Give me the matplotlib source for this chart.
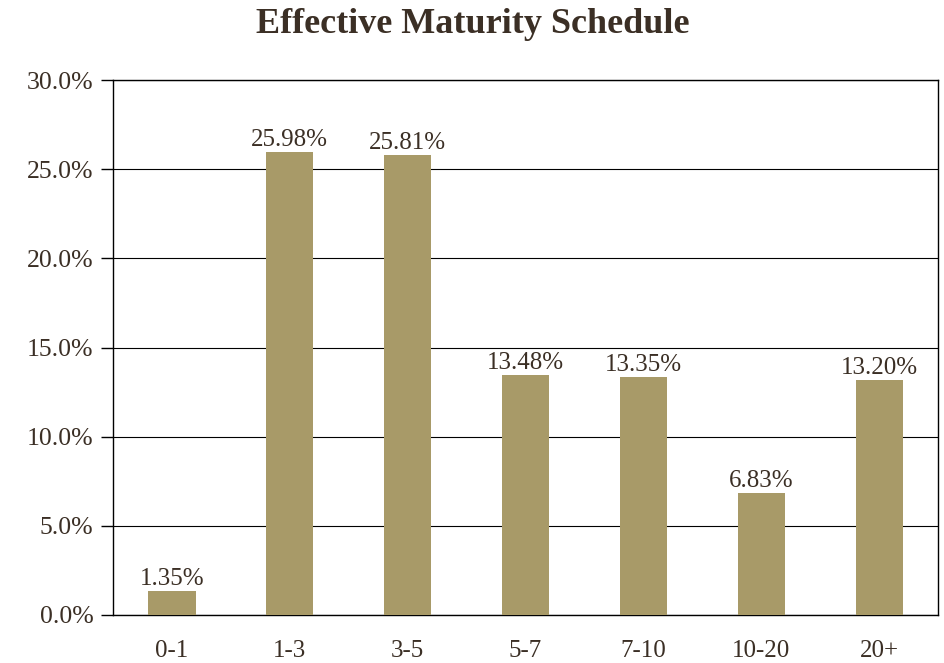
import matplotlib
matplotlib.use('Agg')
import matplotlib.pyplot as plt
from matplotlib.ticker import FuncFormatter

categories = ['0-1', '1-3', '3-5', '5-7', '7-10', '10-20', '20+']
values = [1.35, 25.98, 25.81, 13.48, 13.35, 6.83, 13.20]
y_ticks = [0, 5, 10, 15, 20, 25, 30]

text_color = '#3b2f25'
bar_color = '#a89a68'

plt.rcParams['font.family'] = ['Liberation Serif', 'DejaVu Serif']

fig = plt.figure(figsize=(9.45, 6.63), dpi=100)
ax = fig.add_axes([0.1196, 0.0724, 0.8730, 0.8069])

x = range(len(categories))
bars = ax.bar(x, values, width=0.40, color=bar_color, zorder=3)

for xi, v in zip(x, values):
    ax.text(xi, v + 0.05, f'{v:.2f}%', ha='center', va='bottom',
            fontsize=18, color=text_color, zorder=4)

ax.set_xlim(-0.5, len(categories) - 0.5)
ax.set_ylim(0, 30)
ax.set_yticks(y_ticks)
ax.yaxis.set_major_formatter(FuncFormatter(lambda v, p: f'{v:.1f}%'))
ax.set_xticks(list(x))
ax.set_xticklabels(categories)
ax.grid(axis='y', color='black', linewidth=0.8, zorder=0)

ax.tick_params(axis='y', length=9, width=1, color='black', labelsize=18.5,
               labelcolor=text_color, pad=5)
ax.tick_params(axis='x', length=0, labelsize=18, labelcolor=text_color, pad=18)

for s in ax.spines.values():
    s.set_color('black')
    s.set_linewidth(1.0)

fig.text(0.5, 0.963, 'Effective Maturity Schedule', ha='center', va='center',
         fontsize=26, fontweight='bold', color=text_color)

fig.savefig('out.png', dpi=100)
